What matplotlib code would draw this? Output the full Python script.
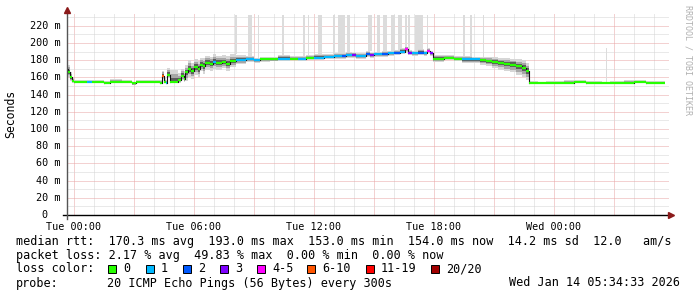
import numpy as np
import matplotlib.pyplot as plt
from matplotlib.patches import Rectangle
from matplotlib.transforms import blended_transform_factory

plt.rcParams['font.family'] = 'DejaVu Sans Mono'

# median rtt (ms) per 5-min step, hours since Tue 00:00, step starts
hours = [-0.40, -0.30, -0.20, -0.10, 0.00, 0.65, 0.90, 1.50, 1.80, 2.40,
         2.90, 3.10, 3.60, 4.30, 4.40, 4.50, 4.60, 4.65, 4.80, 5.20,
         5.35, 5.50, 5.55, 5.70, 5.85, 6.00, 6.20, 6.30, 6.45, 6.55,
         6.80, 6.95, 7.10, 7.40, 7.60, 7.80, 8.10, 8.60, 9.00, 9.30,
         9.80, 10.20, 10.80, 11.20, 11.60, 12.00, 12.50, 13.00, 13.40, 13.60,
         13.90, 14.10, 14.60, 14.80, 15.00, 15.40, 15.70, 16.00, 16.30, 16.55,
         16.70, 16.90, 17.20, 17.50, 17.65, 17.80, 17.95, 18.50, 19.00, 19.40,
         19.90, 20.30, 20.60, 20.90, 21.20, 21.50, 21.80, 22.10, 22.40, 22.60,
         22.75, 23.20, 23.60, 24.50, 25.00, 25.60, 26.40, 26.80, 27.50, 28.00,
         28.60, 29.00, 29.55]
median = [170, 166, 160, 156, 155, 155, 155, 154, 155, 155,
          153, 155, 155, 154, 162, 155, 154, 163, 155, 157,
          162, 158, 166, 170, 168, 172, 170, 175, 173, 177,
          176, 178, 177, 178, 176, 179, 180, 181, 180, 181,
          181, 182, 182, 182, 183, 183, 184, 185, 185, 186,
          186, 185, 187, 186, 187, 187, 188, 189, 190, 193,
          189, 188, 189, 188, 191, 188, 182, 183, 182, 181,
          181, 180, 179, 178, 177, 176, 175, 173, 171, 168,
          154, 153, 154, 154, 155, 154, 153, 154, 154, 155,
          154, 154, 154]
loss = [0, 0, 0, 0, 0, 1, 0, 0, 0, 0,
        0, 0, 0, 0, 5, 0, 1, 0, 0, 0,
        0, 0, 0, 0, 0, 0, 0, 0, 0, 0,
        0, 1, 0, 0, 0, 0, 1, 1, 1, 0,
        0, 1, 0, 1, 0, 1, 1, 1, 2, 1,
        3, 1, 2, 3, 1, 2, 1, 2, 1, 4,
        3, 1, 2, 1, 4, 3, 0, 0, 0, 1,
        1, 0, 0, 0, 0, 0, 0, 0, 0, 0,
        0, 0, 0, 0, 0, 0, 0, 0, 0, 0,
        0, 0, 0]
# spread of the smoke below / above the median (ms)
smoke_dn = [5, 5, 4, 2, 1, 1, 1, 1, 1, 1,
            2, 1, 1, 1, 4, 2, 2, 4, 2, 3,
            5, 3, 10, 9, 10, 9, 9, 8, 9, 8,
            8, 8, 8, 7, 8, 7, 4, 3, 3, 3,
            2, 3, 2, 3, 3, 3, 2, 3, 3, 3,
            3, 3, 3, 3, 3, 3, 3, 3, 3, 3,
            3, 3, 3, 3, 3, 3, 4, 3, 3, 4,
            4, 5, 6, 7, 8, 9, 9, 10, 11, 11,
            1, 1, 1, 1, 1, 1, 1, 1, 1, 1,
            1, 1, 1]
smoke_up = [9, 9, 6, 3, 2, 2, 2, 2, 3, 2,
            2, 2, 2, 3, 6, 4, 3, 8, 14, 8,
            8, 10, 8, 10, 9, 10, 9, 8, 10, 8,
            8, 9, 8, 8, 9, 8, 6, 4, 3, 3,
            3, 4, 3, 3, 3, 4, 3, 3, 3, 4,
            3, 3, 4, 3, 3, 4, 3, 3, 4, 3,
            3, 3, 4, 3, 3, 3, 4, 3, 3, 4,
            3, 4, 5, 6, 6, 7, 7, 8, 9, 9,
            2, 2, 2, 3, 2, 2, 2, 2, 3, 2,
            2, 2, 2]
# tall light grey smoke spikes
spike_start = [8.05, 8.70, 9.20, 10.40, 11.45, 11.70, 12.20, 12.95, 13.20, 13.65,
               14.70, 15.15, 15.45, 15.85, 16.20, 16.55, 16.70, 17.05, 17.65, 19.45,
               19.80, 20.45, 26.60]
spike_end = [8.15, 8.90, 9.25, 10.50, 11.55, 11.75, 12.40, 13.05, 13.55, 13.80,
             14.90, 15.30, 15.65, 16.05, 16.40, 16.65, 16.80, 17.45, 17.70, 19.55,
             19.90, 20.50, 26.65]
spike_top = [233, 233, 233, 233, 233, 233, 233, 233, 233, 233,
             233, 233, 233, 233, 233, 233, 233, 233, 233, 233,
             233, 233, 194]

loss_labels = ['0', '1', '2', '3', '4-5', '6-10', '11-19', '20/20']
loss_colors = ['#26ff00', '#00b8ff', '#0059ff', '#7e00ff', '#ff00ff',
               '#ff5500', '#ff0000', '#a10000']

x_tick_hours = [0, 6, 12, 18, 24]
x_tick_labels = ['Tue 00:00', 'Tue 06:00', 'Tue 12:00', 'Tue 18:00', 'Wed 00:00']
y_ticks = [0, 20, 40, 60, 80, 100, 120, 140, 160, 180, 200, 220]
y_labels = ['0', '20 m', '40 m', '60 m', '80 m', '100 m', '120 m', '140 m',
            '160 m', '180 m', '200 m', '220 m']

legend_lines = [
    'median rtt:  170.3 ms avg  193.0 ms max  153.0 ms min  154.0 ms now  14.2 ms sd  12.0   am/s',
    'packet loss: 2.17 % avg  49.83 % max  0.00 % min  0.00 % now',
]
probe_text = '20 ICMP Echo Pings (56 Bytes) every 300s'
stamp = 'Wed Jan 14 05:34:33 2026'

W, H = 697, 297


def fx(px):
    return px / W


def fy(py):
    return 1 - py / H


fig = plt.figure(figsize=(6.97, 2.97), dpi=100)
ax = fig.add_axes([fx(67), fy(215), (669 - 67) / W, (215 - 13) / H])
ax.set_xlim(-0.35, 29.75)
ax.set_ylim(0, 235)
for s in ax.spines.values():
    s.set_visible(False)
ax.set_yticks([])
ax.set_xticks(x_tick_hours, x_tick_labels)
ax.tick_params(axis='x', length=0, pad=5, labelsize=7.3)

# grid
dots = (0, (1, 1))
for h in range(0, 30):
    c = '#e8a4a4' if h % 3 == 0 else '#d4d4d4'
    ax.axvline(h, color=c, lw=0.72, ls=dots, zorder=0)
for v in range(10, 235, 10):
    c = '#e8a4a4' if v % 20 == 0 else '#d4d4d4'
    ax.axhline(v, color=c, lw=0.72, ls=dots, zorder=0)

t = np.array(hours)
m = np.array(median, dtype=float)
dn = np.array(smoke_dn, dtype=float)
up = np.array(smoke_up, dtype=float)

# spikes
for s, e, top in zip(spike_start, spike_end, spike_top):
    i = np.searchsorted(t, s, side='right') - 1
    base = m[i] + up[i]
    ax.bar(s, top - base, width=e - s, bottom=base, align='edge',
           color='#dcdcdc', lw=0, zorder=1)

# smoke, three shades
for frac, shade, z in [(1.0, '#d6d6d6', 2), (0.65, '#a6a6a6', 3), (0.35, '#5c5c5c', 4)]:
    ax.fill_between(t, m - dn * frac, m + up * frac, step='post', color=shade, lw=0, zorder=z)

# median line coloured by loss
for i in range(len(t) - 1):
    col = loss_colors[loss[i]]
    ax.plot([t[i], t[i + 1]], [m[i], m[i]], color=col, lw=1.6,
            solid_capstyle='butt', zorder=6)
    if i + 1 < len(t) - 1:
        ax.plot([t[i + 1], t[i + 1]], [m[i], m[i + 1]], color='#111111',
                lw=0.8, zorder=5)

# axes
ax.plot([-0.55, 29.75], [0, 0], color='black', lw=1, clip_on=False, zorder=7)
ax.plot([-0.35, -0.35], [-4.6, 236], color='#555555', lw=1, clip_on=False, zorder=7)
ax.plot(-0.35, 238.5, marker='^', color='#8b1a1a', ms=4, clip_on=False, zorder=8)
ax.plot(29.85, 0, marker='>', color='#8b1a1a', ms=4, clip_on=False, zorder=8)

# y labels
tr = blended_transform_factory(fig.transFigure, ax.transData)
for v, lab in zip(y_ticks, y_labels):
    xr = 48 if lab == '0' else 60.5
    ax.text(fx(xr), v, lab, transform=tr, ha='right', va='center', fontsize=7.3)

fig.text(fx(10.5), fy(114), 'Seconds', rotation=90, ha='center', va='center', fontsize=8.3)
fig.text(fx(688), fy(60), 'RRDTOOL / TOBI OETIKER', rotation=270, ha='center',
         va='center', fontsize=6, color='#b0b0b0')

# legend
fig.text(fx(16), fy(241.5), legend_lines[0], va='center', fontsize=8.5)
fig.text(fx(16), fy(255.5), legend_lines[1], va='center', fontsize=8.5)
fig.text(fx(16), fy(269), 'loss color:', va='center', fontsize=8.5)
box_x = [108, 146, 183, 220, 257, 307, 366, 431]
for bx, lab, col in zip(box_x, loss_labels, loss_colors):
    fig.add_artist(Rectangle((fx(bx), fy(273)), 8 / W, 8 / H, transform=fig.transFigure,
                             facecolor=col, edgecolor='black', lw=0.7))
    fig.text(fx(bx + 15), fy(269), lab, va='center', fontsize=8.5)
fig.text(fx(16), fy(283), 'probe:', va='center', fontsize=8.5)
fig.text(fx(107), fy(283), probe_text, va='center', fontsize=8.5)
fig.text(fx(680), fy(283), stamp, va='center', ha='right', fontsize=8.5)

fig.savefig('out.png', dpi=100)
